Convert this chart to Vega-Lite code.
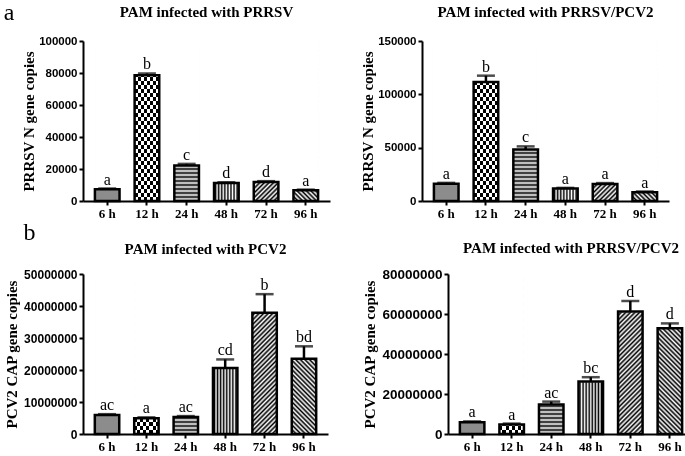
{
"$schema":"https://vega.github.io/schema/vega-lite/v6.json",
"background":"white",
"padding":{"left":3,"top":1,"right":0,"bottom":0},
"params":[
{"name":"g12h","value":{"gradient":"linear","x1":0,"y1":0,"x2":0,"y2":1,"stops":[{"offset":0,"color":"#000"},{"offset":0.025,"color":"#000"},{"offset":0.025,"color":"#fff"},{"offset":0.05,"color":"#fff"},{"offset":0.05,"color":"#000"},{"offset":0.075,"color":"#000"},{"offset":0.075,"color":"#fff"},{"offset":0.1,"color":"#fff"},{"offset":0.1,"color":"#000"},{"offset":0.125,"color":"#000"},{"offset":0.125,"color":"#fff"},{"offset":0.15,"color":"#fff"},{"offset":0.15,"color":"#000"},{"offset":0.175,"color":"#000"},{"offset":0.175,"color":"#fff"},{"offset":0.2,"color":"#fff"},{"offset":0.2,"color":"#000"},{"offset":0.225,"color":"#000"},{"offset":0.225,"color":"#fff"},{"offset":0.25,"color":"#fff"},{"offset":0.25,"color":"#000"},{"offset":0.275,"color":"#000"},{"offset":0.275,"color":"#fff"},{"offset":0.3,"color":"#fff"},{"offset":0.3,"color":"#000"},{"offset":0.325,"color":"#000"},{"offset":0.325,"color":"#fff"},{"offset":0.35,"color":"#fff"},{"offset":0.35,"color":"#000"},{"offset":0.375,"color":"#000"},{"offset":0.375,"color":"#fff"},{"offset":0.4,"color":"#fff"},{"offset":0.4,"color":"#000"},{"offset":0.425,"color":"#000"},{"offset":0.425,"color":"#fff"},{"offset":0.45,"color":"#fff"},{"offset":0.45,"color":"#000"},{"offset":0.475,"color":"#000"},{"offset":0.475,"color":"#fff"},{"offset":0.5,"color":"#fff"},{"offset":0.5,"color":"#000"},{"offset":0.525,"color":"#000"},{"offset":0.525,"color":"#fff"},{"offset":0.55,"color":"#fff"},{"offset":0.55,"color":"#000"},{"offset":0.575,"color":"#000"},{"offset":0.575,"color":"#fff"},{"offset":0.6,"color":"#fff"},{"offset":0.6,"color":"#000"},{"offset":0.625,"color":"#000"},{"offset":0.625,"color":"#fff"},{"offset":0.65,"color":"#fff"},{"offset":0.65,"color":"#000"},{"offset":0.675,"color":"#000"},{"offset":0.675,"color":"#fff"},{"offset":0.7,"color":"#fff"},{"offset":0.7,"color":"#000"},{"offset":0.725,"color":"#000"},{"offset":0.725,"color":"#fff"},{"offset":0.75,"color":"#fff"},{"offset":0.75,"color":"#000"},{"offset":0.775,"color":"#000"},{"offset":0.775,"color":"#fff"},{"offset":0.8,"color":"#fff"},{"offset":0.8,"color":"#000"},{"offset":0.825,"color":"#000"},{"offset":0.825,"color":"#fff"},{"offset":0.85,"color":"#fff"},{"offset":0.85,"color":"#000"},{"offset":0.875,"color":"#000"},{"offset":0.875,"color":"#fff"},{"offset":0.9,"color":"#fff"},{"offset":0.9,"color":"#000"},{"offset":0.925,"color":"#000"},{"offset":0.925,"color":"#fff"},{"offset":0.95,"color":"#fff"},{"offset":0.95,"color":"#000"},{"offset":0.975,"color":"#000"},{"offset":0.975,"color":"#fff"},{"offset":1,"color":"#fff"}]}},
{"name":"g12v","value":{"gradient":"linear","x1":0,"y1":0,"x2":1,"y2":0,"stops":[{"offset":0,"color":"#000"},{"offset":0.125,"color":"#000"},{"offset":0.125,"color":"#fff"},{"offset":0.25,"color":"#fff"},{"offset":0.25,"color":"#000"},{"offset":0.375,"color":"#000"},{"offset":0.375,"color":"#fff"},{"offset":0.5,"color":"#fff"},{"offset":0.5,"color":"#000"},{"offset":0.625,"color":"#000"},{"offset":0.625,"color":"#fff"},{"offset":0.75,"color":"#fff"},{"offset":0.75,"color":"#000"},{"offset":0.875,"color":"#000"},{"offset":0.875,"color":"#fff"},{"offset":1,"color":"#fff"}]}},
{"name":"g24","value":{"gradient":"linear","x1":0,"y1":0,"x2":0,"y2":1,"stops":[{"offset":0,"color":"#000"},{"offset":0.0125,"color":"#fff"},{"offset":0.025,"color":"#000"},{"offset":0.0375,"color":"#fff"},{"offset":0.05,"color":"#000"},{"offset":0.0625,"color":"#fff"},{"offset":0.075,"color":"#000"},{"offset":0.0875,"color":"#fff"},{"offset":0.1,"color":"#000"},{"offset":0.1125,"color":"#fff"},{"offset":0.125,"color":"#000"},{"offset":0.1375,"color":"#fff"},{"offset":0.15,"color":"#000"},{"offset":0.1625,"color":"#fff"},{"offset":0.175,"color":"#000"},{"offset":0.1875,"color":"#fff"},{"offset":0.2,"color":"#000"},{"offset":0.2125,"color":"#fff"},{"offset":0.225,"color":"#000"},{"offset":0.2375,"color":"#fff"},{"offset":0.25,"color":"#000"},{"offset":0.2625,"color":"#fff"},{"offset":0.275,"color":"#000"},{"offset":0.2875,"color":"#fff"},{"offset":0.3,"color":"#000"},{"offset":0.3125,"color":"#fff"},{"offset":0.325,"color":"#000"},{"offset":0.3375,"color":"#fff"},{"offset":0.35,"color":"#000"},{"offset":0.3625,"color":"#fff"},{"offset":0.375,"color":"#000"},{"offset":0.3875,"color":"#fff"},{"offset":0.4,"color":"#000"},{"offset":0.4125,"color":"#fff"},{"offset":0.425,"color":"#000"},{"offset":0.4375,"color":"#fff"},{"offset":0.45,"color":"#000"},{"offset":0.4625,"color":"#fff"},{"offset":0.475,"color":"#000"},{"offset":0.4875,"color":"#fff"},{"offset":0.5,"color":"#000"},{"offset":0.5125,"color":"#fff"},{"offset":0.525,"color":"#000"},{"offset":0.5375,"color":"#fff"},{"offset":0.55,"color":"#000"},{"offset":0.5625,"color":"#fff"},{"offset":0.575,"color":"#000"},{"offset":0.5875,"color":"#fff"},{"offset":0.6,"color":"#000"},{"offset":0.6125,"color":"#fff"},{"offset":0.625,"color":"#000"},{"offset":0.6375,"color":"#fff"},{"offset":0.65,"color":"#000"},{"offset":0.6625,"color":"#fff"},{"offset":0.675,"color":"#000"},{"offset":0.6875,"color":"#fff"},{"offset":0.7,"color":"#000"},{"offset":0.7125,"color":"#fff"},{"offset":0.725,"color":"#000"},{"offset":0.7375,"color":"#fff"},{"offset":0.75,"color":"#000"},{"offset":0.7625,"color":"#fff"},{"offset":0.775,"color":"#000"},{"offset":0.7875,"color":"#fff"},{"offset":0.8,"color":"#000"},{"offset":0.8125,"color":"#fff"},{"offset":0.825,"color":"#000"},{"offset":0.8375,"color":"#fff"},{"offset":0.85,"color":"#000"},{"offset":0.8625,"color":"#fff"},{"offset":0.875,"color":"#000"},{"offset":0.8875,"color":"#fff"},{"offset":0.9,"color":"#000"},{"offset":0.9125,"color":"#fff"},{"offset":0.925,"color":"#000"},{"offset":0.9375,"color":"#fff"},{"offset":0.95,"color":"#000"},{"offset":0.9625,"color":"#fff"},{"offset":0.975,"color":"#000"},{"offset":0.9875,"color":"#fff"},{"offset":1,"color":"#000"}]}},
{"name":"g48","value":{"gradient":"linear","x1":0,"y1":0,"x2":1,"y2":0,"stops":[{"offset":0,"color":"#fff"},{"offset":0.0625,"color":"#000"},{"offset":0.125,"color":"#fff"},{"offset":0.1875,"color":"#000"},{"offset":0.25,"color":"#fff"},{"offset":0.3125,"color":"#000"},{"offset":0.375,"color":"#fff"},{"offset":0.4375,"color":"#000"},{"offset":0.5,"color":"#fff"},{"offset":0.5625,"color":"#000"},{"offset":0.625,"color":"#fff"},{"offset":0.6875,"color":"#000"},{"offset":0.75,"color":"#fff"},{"offset":0.8125,"color":"#000"},{"offset":0.875,"color":"#fff"},{"offset":0.9375,"color":"#000"},{"offset":1,"color":"#fff"}]}},
{"name":"g72","value":{"gradient":"linear","x1":0,"y1":0,"x2":0.1734,"y2":1.127,"stops":[{"offset":0,"color":"#000"},{"offset":0.0125,"color":"#fff"},{"offset":0.025,"color":"#000"},{"offset":0.0375,"color":"#fff"},{"offset":0.05,"color":"#000"},{"offset":0.0625,"color":"#fff"},{"offset":0.075,"color":"#000"},{"offset":0.0875,"color":"#fff"},{"offset":0.1,"color":"#000"},{"offset":0.1125,"color":"#fff"},{"offset":0.125,"color":"#000"},{"offset":0.1375,"color":"#fff"},{"offset":0.15,"color":"#000"},{"offset":0.1625,"color":"#fff"},{"offset":0.175,"color":"#000"},{"offset":0.1875,"color":"#fff"},{"offset":0.2,"color":"#000"},{"offset":0.2125,"color":"#fff"},{"offset":0.225,"color":"#000"},{"offset":0.2375,"color":"#fff"},{"offset":0.25,"color":"#000"},{"offset":0.2625,"color":"#fff"},{"offset":0.275,"color":"#000"},{"offset":0.2875,"color":"#fff"},{"offset":0.3,"color":"#000"},{"offset":0.3125,"color":"#fff"},{"offset":0.325,"color":"#000"},{"offset":0.3375,"color":"#fff"},{"offset":0.35,"color":"#000"},{"offset":0.3625,"color":"#fff"},{"offset":0.375,"color":"#000"},{"offset":0.3875,"color":"#fff"},{"offset":0.4,"color":"#000"},{"offset":0.4125,"color":"#fff"},{"offset":0.425,"color":"#000"},{"offset":0.4375,"color":"#fff"},{"offset":0.45,"color":"#000"},{"offset":0.4625,"color":"#fff"},{"offset":0.475,"color":"#000"},{"offset":0.4875,"color":"#fff"},{"offset":0.5,"color":"#000"},{"offset":0.5125,"color":"#fff"},{"offset":0.525,"color":"#000"},{"offset":0.5375,"color":"#fff"},{"offset":0.55,"color":"#000"},{"offset":0.5625,"color":"#fff"},{"offset":0.575,"color":"#000"},{"offset":0.5875,"color":"#fff"},{"offset":0.6,"color":"#000"},{"offset":0.6125,"color":"#fff"},{"offset":0.625,"color":"#000"},{"offset":0.6375,"color":"#fff"},{"offset":0.65,"color":"#000"},{"offset":0.6625,"color":"#fff"},{"offset":0.675,"color":"#000"},{"offset":0.6875,"color":"#fff"},{"offset":0.7,"color":"#000"},{"offset":0.7125,"color":"#fff"},{"offset":0.725,"color":"#000"},{"offset":0.7375,"color":"#fff"},{"offset":0.75,"color":"#000"},{"offset":0.7625,"color":"#fff"},{"offset":0.775,"color":"#000"},{"offset":0.7875,"color":"#fff"},{"offset":0.8,"color":"#000"},{"offset":0.8125,"color":"#fff"},{"offset":0.825,"color":"#000"},{"offset":0.8375,"color":"#fff"},{"offset":0.85,"color":"#000"},{"offset":0.8625,"color":"#fff"},{"offset":0.875,"color":"#000"},{"offset":0.8875,"color":"#fff"},{"offset":0.9,"color":"#000"},{"offset":0.9125,"color":"#fff"},{"offset":0.925,"color":"#000"},{"offset":0.9375,"color":"#fff"},{"offset":0.95,"color":"#000"},{"offset":0.9625,"color":"#fff"},{"offset":0.975,"color":"#000"},{"offset":0.9875,"color":"#fff"},{"offset":1,"color":"#000"}]}},
{"name":"g96","value":{"gradient":"linear","x1":0,"y1":1,"x2":0.1734,"y2":-0.127,"stops":[{"offset":0,"color":"#000"},{"offset":0.0125,"color":"#fff"},{"offset":0.025,"color":"#000"},{"offset":0.0375,"color":"#fff"},{"offset":0.05,"color":"#000"},{"offset":0.0625,"color":"#fff"},{"offset":0.075,"color":"#000"},{"offset":0.0875,"color":"#fff"},{"offset":0.1,"color":"#000"},{"offset":0.1125,"color":"#fff"},{"offset":0.125,"color":"#000"},{"offset":0.1375,"color":"#fff"},{"offset":0.15,"color":"#000"},{"offset":0.1625,"color":"#fff"},{"offset":0.175,"color":"#000"},{"offset":0.1875,"color":"#fff"},{"offset":0.2,"color":"#000"},{"offset":0.2125,"color":"#fff"},{"offset":0.225,"color":"#000"},{"offset":0.2375,"color":"#fff"},{"offset":0.25,"color":"#000"},{"offset":0.2625,"color":"#fff"},{"offset":0.275,"color":"#000"},{"offset":0.2875,"color":"#fff"},{"offset":0.3,"color":"#000"},{"offset":0.3125,"color":"#fff"},{"offset":0.325,"color":"#000"},{"offset":0.3375,"color":"#fff"},{"offset":0.35,"color":"#000"},{"offset":0.3625,"color":"#fff"},{"offset":0.375,"color":"#000"},{"offset":0.3875,"color":"#fff"},{"offset":0.4,"color":"#000"},{"offset":0.4125,"color":"#fff"},{"offset":0.425,"color":"#000"},{"offset":0.4375,"color":"#fff"},{"offset":0.45,"color":"#000"},{"offset":0.4625,"color":"#fff"},{"offset":0.475,"color":"#000"},{"offset":0.4875,"color":"#fff"},{"offset":0.5,"color":"#000"},{"offset":0.5125,"color":"#fff"},{"offset":0.525,"color":"#000"},{"offset":0.5375,"color":"#fff"},{"offset":0.55,"color":"#000"},{"offset":0.5625,"color":"#fff"},{"offset":0.575,"color":"#000"},{"offset":0.5875,"color":"#fff"},{"offset":0.6,"color":"#000"},{"offset":0.6125,"color":"#fff"},{"offset":0.625,"color":"#000"},{"offset":0.6375,"color":"#fff"},{"offset":0.65,"color":"#000"},{"offset":0.6625,"color":"#fff"},{"offset":0.675,"color":"#000"},{"offset":0.6875,"color":"#fff"},{"offset":0.7,"color":"#000"},{"offset":0.7125,"color":"#fff"},{"offset":0.725,"color":"#000"},{"offset":0.7375,"color":"#fff"},{"offset":0.75,"color":"#000"},{"offset":0.7625,"color":"#fff"},{"offset":0.775,"color":"#000"},{"offset":0.7875,"color":"#fff"},{"offset":0.8,"color":"#000"},{"offset":0.8125,"color":"#fff"},{"offset":0.825,"color":"#000"},{"offset":0.8375,"color":"#fff"},{"offset":0.85,"color":"#000"},{"offset":0.8625,"color":"#fff"},{"offset":0.875,"color":"#000"},{"offset":0.8875,"color":"#fff"},{"offset":0.9,"color":"#000"},{"offset":0.9125,"color":"#fff"},{"offset":0.925,"color":"#000"},{"offset":0.9375,"color":"#fff"},{"offset":0.95,"color":"#000"},{"offset":0.9625,"color":"#fff"},{"offset":0.975,"color":"#000"},{"offset":0.9875,"color":"#fff"},{"offset":1,"color":"#000"}]}}
],
"datasets":{"d":[
{"p":"aL","t":"6 h","v":7300,"hi":7800,"lab":"a"},
{"p":"aL","t":"12 h","v":78600,"hi":79700,"lab":"b"},
{"p":"aL","t":"24 h","v":22200,"hi":23200,"lab":"c"},
{"p":"aL","t":"48 h","v":11200,"hi":11700,"lab":"d"},
{"p":"aL","t":"72 h","v":11900,"hi":12400,"lab":"d"},
{"p":"aL","t":"96 h","v":6700,"hi":7100,"lab":"a"},
{"p":"aR","t":"6 h","v":16200,"hi":17000,"lab":"a"},
{"p":"aR","t":"12 h","v":111500,"hi":117500,"lab":"b"},
{"p":"aR","t":"24 h","v":48300,"hi":51200,"lab":"c"},
{"p":"aR","t":"48 h","v":11700,"hi":12300,"lab":"a"},
{"p":"aR","t":"72 h","v":16000,"hi":16800,"lab":"a"},
{"p":"aR","t":"96 h","v":8300,"hi":8900,"lab":"a"},
{"p":"bL","t":"6 h","v":5900000,"hi":6200000,"lab":"ac"},
{"p":"bL","t":"12 h","v":4900000,"hi":5200000,"lab":"a"},
{"p":"bL","t":"24 h","v":5300000,"hi":5600000,"lab":"ac"},
{"p":"bL","t":"48 h","v":20600000,"hi":23300000,"lab":"cd"},
{"p":"bL","t":"72 h","v":37900000,"hi":43700000,"lab":"b"},
{"p":"bL","t":"96 h","v":23500000,"hi":27400000,"lab":"bd"},
{"p":"bR","t":"6 h","v":5900000,"hi":6300000,"lab":"a"},
{"p":"bR","t":"12 h","v":4700000,"hi":5200000,"lab":"a"},
{"p":"bR","t":"24 h","v":14800000,"hi":16200000,"lab":"ac"},
{"p":"bR","t":"48 h","v":26200000,"hi":28400000,"lab":"bc"},
{"p":"bR","t":"72 h","v":61200000,"hi":66500000,"lab":"d"},
{"p":"bR","t":"96 h","v":52900000,"hi":55300000,"lab":"d"}
]},
"columns":1,
"align":"none",
"spacing":1,
"concat":[
{"spacing":30,"title":{"text":"a","anchor":"start","fontSize":24,"fontWeight":"normal","dx":-18,"offset":-20},"hconcat":[
{"width":247,"height":160,"title":{"text":"PAM infected with PRRSV","offset":15},"data":{"name":"d"},"transform":[{"filter":"datum.p=='aL'"}],
"encoding":{"x":{"field":"t","type":"nominal","sort":null,"scale":{"paddingInner":0.38,"paddingOuter":0.3},"axis":{"title":null}}},
"layer":[
{"transform":[{"filter":"datum.t=='6 h'"}],"mark":{"type":"bar","fill":"#8c8c8c"},"encoding":{"y":{"datum":100000,"type":"quantitative","axis":{"title":"PRRSV N gene copies","values":[0,20000,40000,60000,80000,100000],"format":"d","labelFontSize":11.5,"labelOverlap":false,"titlePadding":2}},"y2":{"datum":0}}},
{"transform":[{"filter":"datum.t=='12 h'"}],"mark":{"type":"bar","fill":{"expr":"g12h"}},"encoding":{"y":{"datum":100000,"type":"quantitative","axis":{"title":"PRRSV N gene copies","values":[0,20000,40000,60000,80000,100000],"format":"d","labelFontSize":11.5,"labelOverlap":false,"titlePadding":2}},"y2":{"datum":0}}},
{"transform":[{"filter":"datum.t=='12 h'"}],"mark":{"type":"bar","fill":{"expr":"g12v"},"blend":"difference"},"encoding":{"y":{"datum":100000,"type":"quantitative","axis":{"title":"PRRSV N gene copies","values":[0,20000,40000,60000,80000,100000],"format":"d","labelFontSize":11.5,"labelOverlap":false,"titlePadding":2}},"y2":{"datum":0}}},
{"transform":[{"filter":"datum.t=='24 h'"}],"mark":{"type":"bar","fill":{"expr":"g24"}},"encoding":{"y":{"datum":100000,"type":"quantitative","axis":{"title":"PRRSV N gene copies","values":[0,20000,40000,60000,80000,100000],"format":"d","labelFontSize":11.5,"labelOverlap":false,"titlePadding":2}},"y2":{"datum":0}}},
{"transform":[{"filter":"datum.t=='48 h'"}],"mark":{"type":"bar","fill":{"expr":"g48"}},"encoding":{"y":{"datum":100000,"type":"quantitative","axis":{"title":"PRRSV N gene copies","values":[0,20000,40000,60000,80000,100000],"format":"d","labelFontSize":11.5,"labelOverlap":false,"titlePadding":2}},"y2":{"datum":0}}},
{"transform":[{"filter":"datum.t=='72 h'"}],"mark":{"type":"bar","fill":{"expr":"g72"}},"encoding":{"y":{"datum":100000,"type":"quantitative","axis":{"title":"PRRSV N gene copies","values":[0,20000,40000,60000,80000,100000],"format":"d","labelFontSize":11.5,"labelOverlap":false,"titlePadding":2}},"y2":{"datum":0}}},
{"transform":[{"filter":"datum.t=='96 h'"}],"mark":{"type":"bar","fill":{"expr":"g96"}},"encoding":{"y":{"datum":100000,"type":"quantitative","axis":{"title":"PRRSV N gene copies","values":[0,20000,40000,60000,80000,100000],"format":"d","labelFontSize":11.5,"labelOverlap":false,"titlePadding":2}},"y2":{"datum":0}}},
{"mark":{"type":"bar","fill":"white","stroke":"white","strokeWidth":1.5},"encoding":{"y":{"field":"v","type":"quantitative","axis":{"title":"PRRSV N gene copies","values":[0,20000,40000,60000,80000,100000],"format":"d","labelFontSize":11.5,"labelOverlap":false,"titlePadding":2}},"y2":{"datum":100000}}},
{"mark":{"type":"bar","fill":"transparent","stroke":"black","strokeWidth":2.5},"encoding":{"y":{"field":"v","type":"quantitative","scale":{"domain":[0,100000],"nice":false},"axis":{"title":"PRRSV N gene copies","values":[0,20000,40000,60000,80000,100000],"format":"d","labelFontSize":11.5,"labelOverlap":false,"titlePadding":2}}}},
{"mark":{"type":"rule","color":"black","strokeWidth":2.5},"encoding":{"y":{"field":"v","type":"quantitative","axis":{"title":"PRRSV N gene copies","values":[0,20000,40000,60000,80000,100000],"format":"d","labelFontSize":11.5,"labelOverlap":false,"titlePadding":2}},"y2":{"field":"hi"}}},
{"mark":{"type":"tick","orient":"horizontal","size":18,"thickness":2.5,"color":"black"},"encoding":{"y":{"field":"hi","type":"quantitative","axis":{"title":"PRRSV N gene copies","values":[0,20000,40000,60000,80000,100000],"format":"d","labelFontSize":11.5,"labelOverlap":false,"titlePadding":2}}}},
{"mark":{"type":"text","baseline":"bottom","dy":-1,"font":"Liberation Serif","fontSize":16,"color":"black"},"encoding":{"y":{"field":"hi","type":"quantitative","axis":{"title":"PRRSV N gene copies","values":[0,20000,40000,60000,80000,100000],"format":"d","labelFontSize":11.5,"labelOverlap":false,"titlePadding":2}},"text":{"field":"lab"}}}
]},
{"width":247,"height":160,"title":{"text":"PAM infected with PRRSV/PCV2","offset":15},"data":{"name":"d"},"transform":[{"filter":"datum.p=='aR'"}],
"encoding":{"x":{"field":"t","type":"nominal","sort":null,"scale":{"paddingInner":0.38,"paddingOuter":0.3},"axis":{"title":null}}},
"layer":[
{"transform":[{"filter":"datum.t=='6 h'"}],"mark":{"type":"bar","fill":"#8c8c8c"},"encoding":{"y":{"datum":150000,"type":"quantitative","axis":{"title":"PRRSV N gene copies","values":[0,50000,100000,150000],"format":"d","labelFontSize":11.5,"labelOverlap":false,"titlePadding":2}},"y2":{"datum":0}}},
{"transform":[{"filter":"datum.t=='12 h'"}],"mark":{"type":"bar","fill":{"expr":"g12h"}},"encoding":{"y":{"datum":150000,"type":"quantitative","axis":{"title":"PRRSV N gene copies","values":[0,50000,100000,150000],"format":"d","labelFontSize":11.5,"labelOverlap":false,"titlePadding":2}},"y2":{"datum":0}}},
{"transform":[{"filter":"datum.t=='12 h'"}],"mark":{"type":"bar","fill":{"expr":"g12v"},"blend":"difference"},"encoding":{"y":{"datum":150000,"type":"quantitative","axis":{"title":"PRRSV N gene copies","values":[0,50000,100000,150000],"format":"d","labelFontSize":11.5,"labelOverlap":false,"titlePadding":2}},"y2":{"datum":0}}},
{"transform":[{"filter":"datum.t=='24 h'"}],"mark":{"type":"bar","fill":{"expr":"g24"}},"encoding":{"y":{"datum":150000,"type":"quantitative","axis":{"title":"PRRSV N gene copies","values":[0,50000,100000,150000],"format":"d","labelFontSize":11.5,"labelOverlap":false,"titlePadding":2}},"y2":{"datum":0}}},
{"transform":[{"filter":"datum.t=='48 h'"}],"mark":{"type":"bar","fill":{"expr":"g48"}},"encoding":{"y":{"datum":150000,"type":"quantitative","axis":{"title":"PRRSV N gene copies","values":[0,50000,100000,150000],"format":"d","labelFontSize":11.5,"labelOverlap":false,"titlePadding":2}},"y2":{"datum":0}}},
{"transform":[{"filter":"datum.t=='72 h'"}],"mark":{"type":"bar","fill":{"expr":"g72"}},"encoding":{"y":{"datum":150000,"type":"quantitative","axis":{"title":"PRRSV N gene copies","values":[0,50000,100000,150000],"format":"d","labelFontSize":11.5,"labelOverlap":false,"titlePadding":2}},"y2":{"datum":0}}},
{"transform":[{"filter":"datum.t=='96 h'"}],"mark":{"type":"bar","fill":{"expr":"g96"}},"encoding":{"y":{"datum":150000,"type":"quantitative","axis":{"title":"PRRSV N gene copies","values":[0,50000,100000,150000],"format":"d","labelFontSize":11.5,"labelOverlap":false,"titlePadding":2}},"y2":{"datum":0}}},
{"mark":{"type":"bar","fill":"white","stroke":"white","strokeWidth":1.5},"encoding":{"y":{"field":"v","type":"quantitative","axis":{"title":"PRRSV N gene copies","values":[0,50000,100000,150000],"format":"d","labelFontSize":11.5,"labelOverlap":false,"titlePadding":2}},"y2":{"datum":150000}}},
{"mark":{"type":"bar","fill":"transparent","stroke":"black","strokeWidth":2.5},"encoding":{"y":{"field":"v","type":"quantitative","scale":{"domain":[0,150000],"nice":false},"axis":{"title":"PRRSV N gene copies","values":[0,50000,100000,150000],"format":"d","labelFontSize":11.5,"labelOverlap":false,"titlePadding":2}}}},
{"mark":{"type":"rule","color":"black","strokeWidth":2.5},"encoding":{"y":{"field":"v","type":"quantitative","axis":{"title":"PRRSV N gene copies","values":[0,50000,100000,150000],"format":"d","labelFontSize":11.5,"labelOverlap":false,"titlePadding":2}},"y2":{"field":"hi"}}},
{"mark":{"type":"tick","orient":"horizontal","size":18,"thickness":2.5,"color":"black"},"encoding":{"y":{"field":"hi","type":"quantitative","axis":{"title":"PRRSV N gene copies","values":[0,50000,100000,150000],"format":"d","labelFontSize":11.5,"labelOverlap":false,"titlePadding":2}}}},
{"mark":{"type":"text","baseline":"bottom","dy":-1,"font":"Liberation Serif","fontSize":16,"color":"black"},"encoding":{"y":{"field":"hi","type":"quantitative","axis":{"title":"PRRSV N gene copies","values":[0,50000,100000,150000],"format":"d","labelFontSize":11.5,"labelOverlap":false,"titlePadding":2}},"text":{"field":"lab"}}}
]}
]},
{"spacing":34,"title":{"text":"b","anchor":"start","fontSize":24,"fontWeight":"normal","dx":19,"offset":-4},"hconcat":[
{"width":245,"height":160,"title":{"text":"PAM infected with PCV2","offset":11},"data":{"name":"d"},"transform":[{"filter":"datum.p=='bL'"}],
"encoding":{"x":{"field":"t","type":"nominal","sort":null,"scale":{"paddingInner":0.38,"paddingOuter":0.3},"axis":{"title":null}}},
"layer":[
{"transform":[{"filter":"datum.t=='6 h'"}],"mark":{"type":"bar","fill":"#8c8c8c"},"encoding":{"y":{"datum":50000000,"type":"quantitative","axis":{"title":"PCV2 CAP gene copies","values":[0,10000000,20000000,30000000,40000000,50000000],"format":"d","labelFontSize":12,"labelOverlap":false}},"y2":{"datum":0}}},
{"transform":[{"filter":"datum.t=='12 h'"}],"mark":{"type":"bar","fill":{"expr":"g12h"}},"encoding":{"y":{"datum":50000000,"type":"quantitative","axis":{"title":"PCV2 CAP gene copies","values":[0,10000000,20000000,30000000,40000000,50000000],"format":"d","labelFontSize":12,"labelOverlap":false}},"y2":{"datum":0}}},
{"transform":[{"filter":"datum.t=='12 h'"}],"mark":{"type":"bar","fill":{"expr":"g12v"},"blend":"difference"},"encoding":{"y":{"datum":50000000,"type":"quantitative","axis":{"title":"PCV2 CAP gene copies","values":[0,10000000,20000000,30000000,40000000,50000000],"format":"d","labelFontSize":12,"labelOverlap":false}},"y2":{"datum":0}}},
{"transform":[{"filter":"datum.t=='24 h'"}],"mark":{"type":"bar","fill":{"expr":"g24"}},"encoding":{"y":{"datum":50000000,"type":"quantitative","axis":{"title":"PCV2 CAP gene copies","values":[0,10000000,20000000,30000000,40000000,50000000],"format":"d","labelFontSize":12,"labelOverlap":false}},"y2":{"datum":0}}},
{"transform":[{"filter":"datum.t=='48 h'"}],"mark":{"type":"bar","fill":{"expr":"g48"}},"encoding":{"y":{"datum":50000000,"type":"quantitative","axis":{"title":"PCV2 CAP gene copies","values":[0,10000000,20000000,30000000,40000000,50000000],"format":"d","labelFontSize":12,"labelOverlap":false}},"y2":{"datum":0}}},
{"transform":[{"filter":"datum.t=='72 h'"}],"mark":{"type":"bar","fill":{"expr":"g72"}},"encoding":{"y":{"datum":50000000,"type":"quantitative","axis":{"title":"PCV2 CAP gene copies","values":[0,10000000,20000000,30000000,40000000,50000000],"format":"d","labelFontSize":12,"labelOverlap":false}},"y2":{"datum":0}}},
{"transform":[{"filter":"datum.t=='96 h'"}],"mark":{"type":"bar","fill":{"expr":"g96"}},"encoding":{"y":{"datum":50000000,"type":"quantitative","axis":{"title":"PCV2 CAP gene copies","values":[0,10000000,20000000,30000000,40000000,50000000],"format":"d","labelFontSize":12,"labelOverlap":false}},"y2":{"datum":0}}},
{"mark":{"type":"bar","fill":"white","stroke":"white","strokeWidth":1.5},"encoding":{"y":{"field":"v","type":"quantitative","axis":{"title":"PCV2 CAP gene copies","values":[0,10000000,20000000,30000000,40000000,50000000],"format":"d","labelFontSize":12,"labelOverlap":false}},"y2":{"datum":50000000}}},
{"mark":{"type":"bar","fill":"transparent","stroke":"black","strokeWidth":2.5},"encoding":{"y":{"field":"v","type":"quantitative","scale":{"domain":[0,50000000],"nice":false},"axis":{"title":"PCV2 CAP gene copies","values":[0,10000000,20000000,30000000,40000000,50000000],"format":"d","labelFontSize":12,"labelOverlap":false}}}},
{"mark":{"type":"rule","color":"black","strokeWidth":2.5},"encoding":{"y":{"field":"v","type":"quantitative","axis":{"title":"PCV2 CAP gene copies","values":[0,10000000,20000000,30000000,40000000,50000000],"format":"d","labelFontSize":12,"labelOverlap":false}},"y2":{"field":"hi"}}},
{"mark":{"type":"tick","orient":"horizontal","size":18,"thickness":2.5,"color":"black"},"encoding":{"y":{"field":"hi","type":"quantitative","axis":{"title":"PCV2 CAP gene copies","values":[0,10000000,20000000,30000000,40000000,50000000],"format":"d","labelFontSize":12,"labelOverlap":false}}}},
{"mark":{"type":"text","baseline":"bottom","dy":-1,"font":"Liberation Serif","fontSize":16,"color":"black"},"encoding":{"y":{"field":"hi","type":"quantitative","axis":{"title":"PCV2 CAP gene copies","values":[0,10000000,20000000,30000000,40000000,50000000],"format":"d","labelFontSize":12,"labelOverlap":false}},"text":{"field":"lab"}}}
]},
{"width":246,"height":160,"title":{"text":"PAM infected with PRRSV/PCV2","offset":11},"data":{"name":"d"},"transform":[{"filter":"datum.p=='bR'"}],
"encoding":{"x":{"field":"t","type":"nominal","sort":null,"scale":{"paddingInner":0.38,"paddingOuter":0.3},"axis":{"title":null}}},
"layer":[
{"transform":[{"filter":"datum.t=='6 h'"}],"mark":{"type":"bar","fill":"#8c8c8c"},"encoding":{"y":{"datum":80000000,"type":"quantitative","axis":{"title":"PCV2 CAP gene copies","values":[0,20000000,40000000,60000000,80000000],"format":"d","labelFontSize":13.5,"labelOverlap":false}},"y2":{"datum":0}}},
{"transform":[{"filter":"datum.t=='12 h'"}],"mark":{"type":"bar","fill":{"expr":"g12h"}},"encoding":{"y":{"datum":80000000,"type":"quantitative","axis":{"title":"PCV2 CAP gene copies","values":[0,20000000,40000000,60000000,80000000],"format":"d","labelFontSize":13.5,"labelOverlap":false}},"y2":{"datum":0}}},
{"transform":[{"filter":"datum.t=='12 h'"}],"mark":{"type":"bar","fill":{"expr":"g12v"},"blend":"difference"},"encoding":{"y":{"datum":80000000,"type":"quantitative","axis":{"title":"PCV2 CAP gene copies","values":[0,20000000,40000000,60000000,80000000],"format":"d","labelFontSize":13.5,"labelOverlap":false}},"y2":{"datum":0}}},
{"transform":[{"filter":"datum.t=='24 h'"}],"mark":{"type":"bar","fill":{"expr":"g24"}},"encoding":{"y":{"datum":80000000,"type":"quantitative","axis":{"title":"PCV2 CAP gene copies","values":[0,20000000,40000000,60000000,80000000],"format":"d","labelFontSize":13.5,"labelOverlap":false}},"y2":{"datum":0}}},
{"transform":[{"filter":"datum.t=='48 h'"}],"mark":{"type":"bar","fill":{"expr":"g48"}},"encoding":{"y":{"datum":80000000,"type":"quantitative","axis":{"title":"PCV2 CAP gene copies","values":[0,20000000,40000000,60000000,80000000],"format":"d","labelFontSize":13.5,"labelOverlap":false}},"y2":{"datum":0}}},
{"transform":[{"filter":"datum.t=='72 h'"}],"mark":{"type":"bar","fill":{"expr":"g72"}},"encoding":{"y":{"datum":80000000,"type":"quantitative","axis":{"title":"PCV2 CAP gene copies","values":[0,20000000,40000000,60000000,80000000],"format":"d","labelFontSize":13.5,"labelOverlap":false}},"y2":{"datum":0}}},
{"transform":[{"filter":"datum.t=='96 h'"}],"mark":{"type":"bar","fill":{"expr":"g96"}},"encoding":{"y":{"datum":80000000,"type":"quantitative","axis":{"title":"PCV2 CAP gene copies","values":[0,20000000,40000000,60000000,80000000],"format":"d","labelFontSize":13.5,"labelOverlap":false}},"y2":{"datum":0}}},
{"mark":{"type":"bar","fill":"white","stroke":"white","strokeWidth":1.5},"encoding":{"y":{"field":"v","type":"quantitative","axis":{"title":"PCV2 CAP gene copies","values":[0,20000000,40000000,60000000,80000000],"format":"d","labelFontSize":13.5,"labelOverlap":false}},"y2":{"datum":80000000}}},
{"mark":{"type":"bar","fill":"transparent","stroke":"black","strokeWidth":2.5},"encoding":{"y":{"field":"v","type":"quantitative","scale":{"domain":[0,80000000],"nice":false},"axis":{"title":"PCV2 CAP gene copies","values":[0,20000000,40000000,60000000,80000000],"format":"d","labelFontSize":13.5,"labelOverlap":false}}}},
{"mark":{"type":"rule","color":"black","strokeWidth":2.5},"encoding":{"y":{"field":"v","type":"quantitative","axis":{"title":"PCV2 CAP gene copies","values":[0,20000000,40000000,60000000,80000000],"format":"d","labelFontSize":13.5,"labelOverlap":false}},"y2":{"field":"hi"}}},
{"mark":{"type":"tick","orient":"horizontal","size":18,"thickness":2.5,"color":"black"},"encoding":{"y":{"field":"hi","type":"quantitative","axis":{"title":"PCV2 CAP gene copies","values":[0,20000000,40000000,60000000,80000000],"format":"d","labelFontSize":13.5,"labelOverlap":false}}}},
{"mark":{"type":"text","baseline":"bottom","dy":-1,"font":"Liberation Serif","fontSize":16,"color":"black"},"encoding":{"y":{"field":"hi","type":"quantitative","axis":{"title":"PCV2 CAP gene copies","values":[0,20000000,40000000,60000000,80000000],"format":"d","labelFontSize":13.5,"labelOverlap":false}},"text":{"field":"lab"}}}
]}
]}
],
"config":{
"view":{"stroke":null},
"title":{"font":"Liberation Serif","fontSize":15,"fontWeight":"bold","color":"black","anchor":"middle"},
"axis":{"domainColor":"black","domainWidth":2,"tickColor":"black","tickWidth":2,"tickSize":4,"labelColor":"black","titleColor":"black","grid":false,"labelOverlap":false},
"axisX":{"labelFont":"Liberation Serif","labelFontWeight":"bold","labelFontSize":13,"labelAngle":0,"labelPadding":2},
"axisY":{"labelFont":"Liberation Sans","labelFontWeight":"bold","labelOverlap":false,"titleFont":"Liberation Serif","titleFontWeight":"bold","titleFontSize":15,"titlePadding":4}
}
}
